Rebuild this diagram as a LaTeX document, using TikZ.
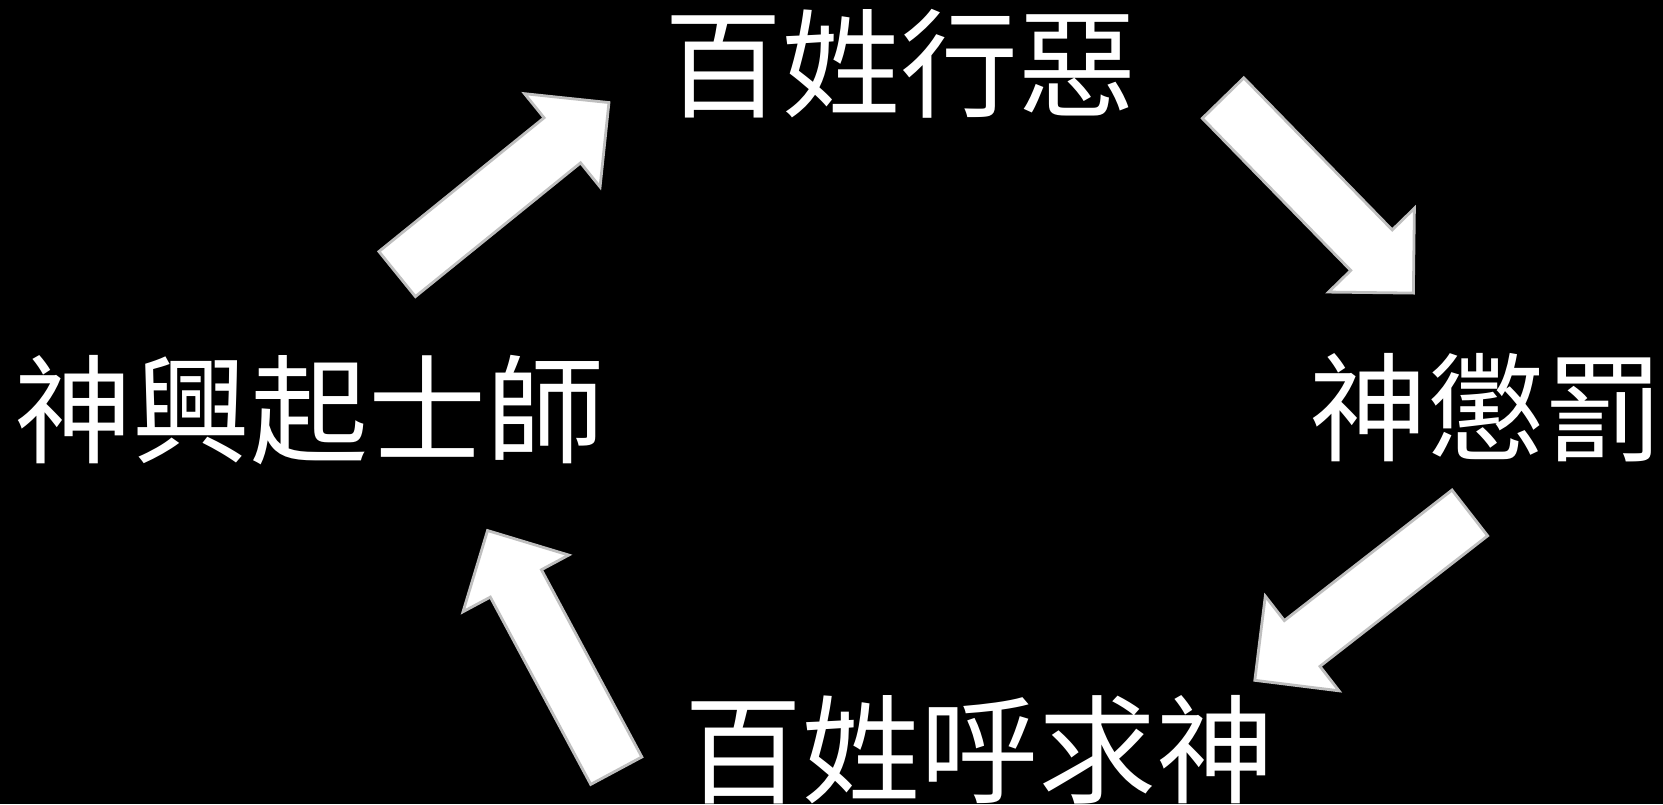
\documentclass[tikz,border=0pt]{standalone}
\usepackage{fontspec}
\newfontfamily\cjk{Noto Sans CJK TC}
\tikzset{
  label/.style={text=white,inner sep=0pt,font=\cjk\fontsize{59}{59}\selectfont},
  arrowbody/.style={fill=white,draw=black!25,line width=1.4pt,line join=miter},
  blockarrow/.pic={
    \filldraw[arrowbody] (1.5,-29) -- (214,-29) -- (214,-60) -- (274,0)
      -- (214,60) -- (214,29) -- (1.5,29) -- cycle;
  }
}

\begin{document}
\begin{tikzpicture}[x=0.5pt,y=-0.5pt]
\fill[black] (0,0) rectangle (1663,804);
\useasboundingbox (0,0) rectangle (1663,804);
\node[label] (evil) at (900,64) {百姓行惡};
\node[label] (punish) at (1486,408) {神懲罰};
\node[label] (cry) at (979,750) {百姓呼求神};
\node[label] (judge) at (309,410) {神興起士師};
\coordinate (t1) at (1222,97);
\coordinate (t2) at (1471,512);
\coordinate (t3) at (617,772);
\coordinate (t4) at (396,275);
\pic[rotate=-45.7] at (t1) {blockarrow};
\pic[rotate=-142.1] at (t2) {blockarrow};
\pic[rotate=118.2] at (t3) {blockarrow};
\pic[rotate=39] at (t4) {blockarrow};
\end{tikzpicture}
\end{document}
